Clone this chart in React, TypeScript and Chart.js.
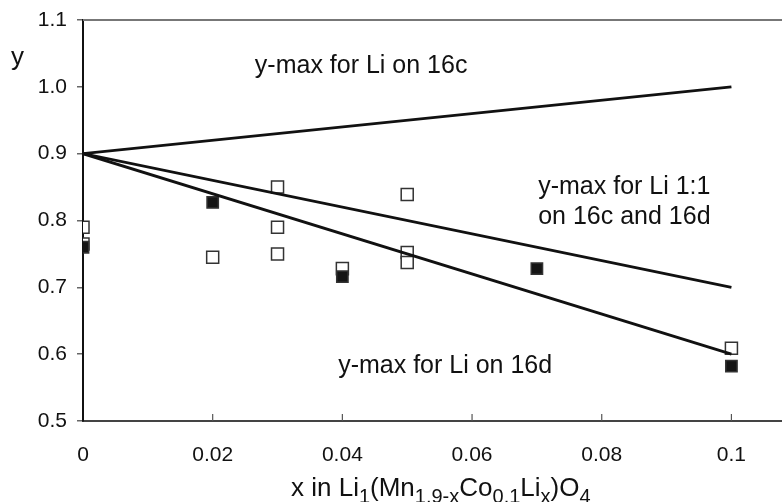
import React, { useEffect, useRef } from "react";
import { Chart, registerables } from "chart.js";

Chart.register(...registerables);

// ---- data ----
const openX = [0, 0, 0.02, 0.03, 0.03, 0.03, 0.04, 0.05, 0.05, 0.05, 0.1];
const openY = [0.79, 0.765, 0.745, 0.85, 0.79, 0.75, 0.728, 0.839, 0.752, 0.737, 0.609];
const filledX = [0, 0.02, 0.04, 0.07, 0.1];
const filledY = [0.76, 0.827, 0.716, 0.728, 0.582];
const lineX = [0, 0.1];
const line16c = [0.9, 1.0];
const line11 = [0.9, 0.7];
const line16d = [0.9, 0.6];
const xTicks = [0, 0.02, 0.04, 0.06, 0.08, 0.1];
const xTickLabels = ["0", "0.02", "0.04", "0.06", "0.08", "0.1"];
const yTicks = [0.5, 0.6, 0.7, 0.8, 0.9, 1.0, 1.1];
const yTickLabels = ["0.5", "0.6", "0.7", "0.8", "0.9", "1.0", "1.1"];
const noteTexts = ["y-max for Li on 16c", "y-max for Li 1:1", "on 16c and 16d", "y-max for Li on 16d"];
const noteAnchors = [
  [0.0265, 1.0209],
  [0.0702, 0.8403],
  [0.0702, 0.7955],
  [0.03935, 0.5716],
];
const xTitleParts: [string, boolean][] = [
  ["x in Li", false],
  ["1", true],
  ["(Mn", false],
  ["1.9-x", true],
  ["Co", false],
  ["0.1", true],
  ["Li", false],
  ["x", true],
  [")O", false],
  ["4", true],
];

const FONT = "'Liberation Sans', Arial, sans-serif";
const INK = "#111";

const pts = (xs: number[], ys: number[]) => xs.map((x, i) => ({ x, y: ys[i] }));

export default function App() {
  const ref = useRef<HTMLCanvasElement | null>(null);
  useEffect(() => {
    document.body.style.margin = "0";
    const canvas = ref.current!;
    const decor = {
      id: "decor",
      afterDraw(chart: any) {
        const { ctx, chartArea, scales } = chart;
        const xs = scales.x;
        const ys = scales.y;
        ctx.save();
        // top frame line
        ctx.strokeStyle = "#777";
        ctx.lineWidth = 2;
        ctx.beginPath();
        ctx.moveTo(chartArea.left, chartArea.top);
        ctx.lineTo(chartArea.right, chartArea.top);
        ctx.stroke();
        // inward x ticks
        ctx.strokeStyle = "#555";
        ctx.lineWidth = 1.2;
        xTicks.forEach((v) => {
          if (v === 0) return;
          const px = xs.getPixelForValue(v);
          ctx.beginPath();
          ctx.moveTo(px, chartArea.bottom);
          ctx.lineTo(px, chartArea.bottom - 7);
          ctx.stroke();
        });
        // annotations
        ctx.fillStyle = INK;
        ctx.font = `25px ${FONT}`;
        ctx.textAlign = "left";
        ctx.textBaseline = "alphabetic";
        noteTexts.forEach((t, i) => {
          const [ax, ay] = noteAnchors[i];
          ctx.fillText(t, xs.getPixelForValue(ax), ys.getPixelForValue(ay));
        });
        // y axis title
        ctx.font = `26px ${FONT}`;
        ctx.fillText("y", 11, 65);
        // x axis title with subscripts
        let cx = 291;
        const base = 496;
        xTitleParts.forEach(([t, sub]) => {
          ctx.font = sub ? `20px ${FONT}` : `26px ${FONT}`;
          ctx.fillText(t, cx, sub ? base + 7 : base);
          cx += ctx.measureText(t).width;
        });
        ctx.restore();
      },
    };

    const lineDs = (data: number[]) => ({
      data: pts(lineX, data),
      showLine: true,
      borderColor: INK,
      borderWidth: 2.8,
      pointRadius: 0,
      fill: false,
    });

    const chart = new Chart(canvas, {
      type: "scatter",
      data: {
        datasets: [
          lineDs(line16c),
          lineDs(line11),
          lineDs(line16d),
          {
            data: pts(filledX, filledY),
            pointStyle: "rect",
            pointRadius: 8,
            backgroundColor: "#151515",
            borderColor: "#333",
            borderWidth: 1.5,
          },
          {
            data: pts(openX, openY),
            pointStyle: "rect",
            pointRadius: 8.5,
            backgroundColor: "#fff",
            borderColor: "#333",
            borderWidth: 1.5,
          },
        ] as any,
      },
      options: {
        animation: false,
        responsive: false,
        layout: { autoPadding: false, padding: { top: 20, right: 0, left: 0, bottom: 0 } },
        plugins: { legend: { display: false }, tooltip: { enabled: false } },
        scales: {
          x: {
            type: "linear",
            min: 0,
            max: 0.1078,
            afterBuildTicks: (axis: any) => {
              axis.ticks = xTicks.map((v) => ({ value: v }));
            },
            afterFit: (axis: any) => {
              axis.height = 81;
              axis.paddingLeft = 0;
              axis.paddingRight = 0;
            },
            grid: { display: false, drawTicks: false },
            border: { display: true, color: "#444", width: 2 },
            ticks: {
              padding: 22,
              color: INK,
              font: { family: FONT, size: 21 },
              maxRotation: 0,
              autoSkip: false,
              callback: (v: any) => {
                const i = xTicks.findIndex((t) => Math.abs(t - Number(v)) < 1e-9);
                return i >= 0 ? xTickLabels[i] : "";
              },
            },
          },
          y: {
            type: "linear",
            min: 0.5,
            max: 1.1,
            afterBuildTicks: (axis: any) => {
              axis.ticks = yTicks.map((v) => ({ value: v }));
            },
            afterFit: (axis: any) => {
              axis.width = 83;
              axis.paddingTop = 0;
              axis.paddingBottom = 0;
            },
            grid: {
              display: true,
              drawOnChartArea: false,
              drawTicks: true,
              tickLength: 6,
              color: "#666",
              lineWidth: 1.5,
            },
            border: { display: true, color: INK, width: 2 },
            ticks: {
              padding: 10,
              color: INK,
              font: { family: FONT, size: 21 },
              autoSkip: false,
              callback: (v: any) => {
                const i = yTicks.findIndex((t) => Math.abs(t - Number(v)) < 1e-9);
                return i >= 0 ? yTickLabels[i] : "";
              },
            },
          },
        },
      },
      plugins: [decor],
    });
    return () => chart.destroy();
  }, []);
  return (
    <div style={{ width: 782, height: 502, background: "#fff" }}>
      <canvas ref={ref} width={782} height={502} style={{ display: "block" }} />
    </div>
  );
}
